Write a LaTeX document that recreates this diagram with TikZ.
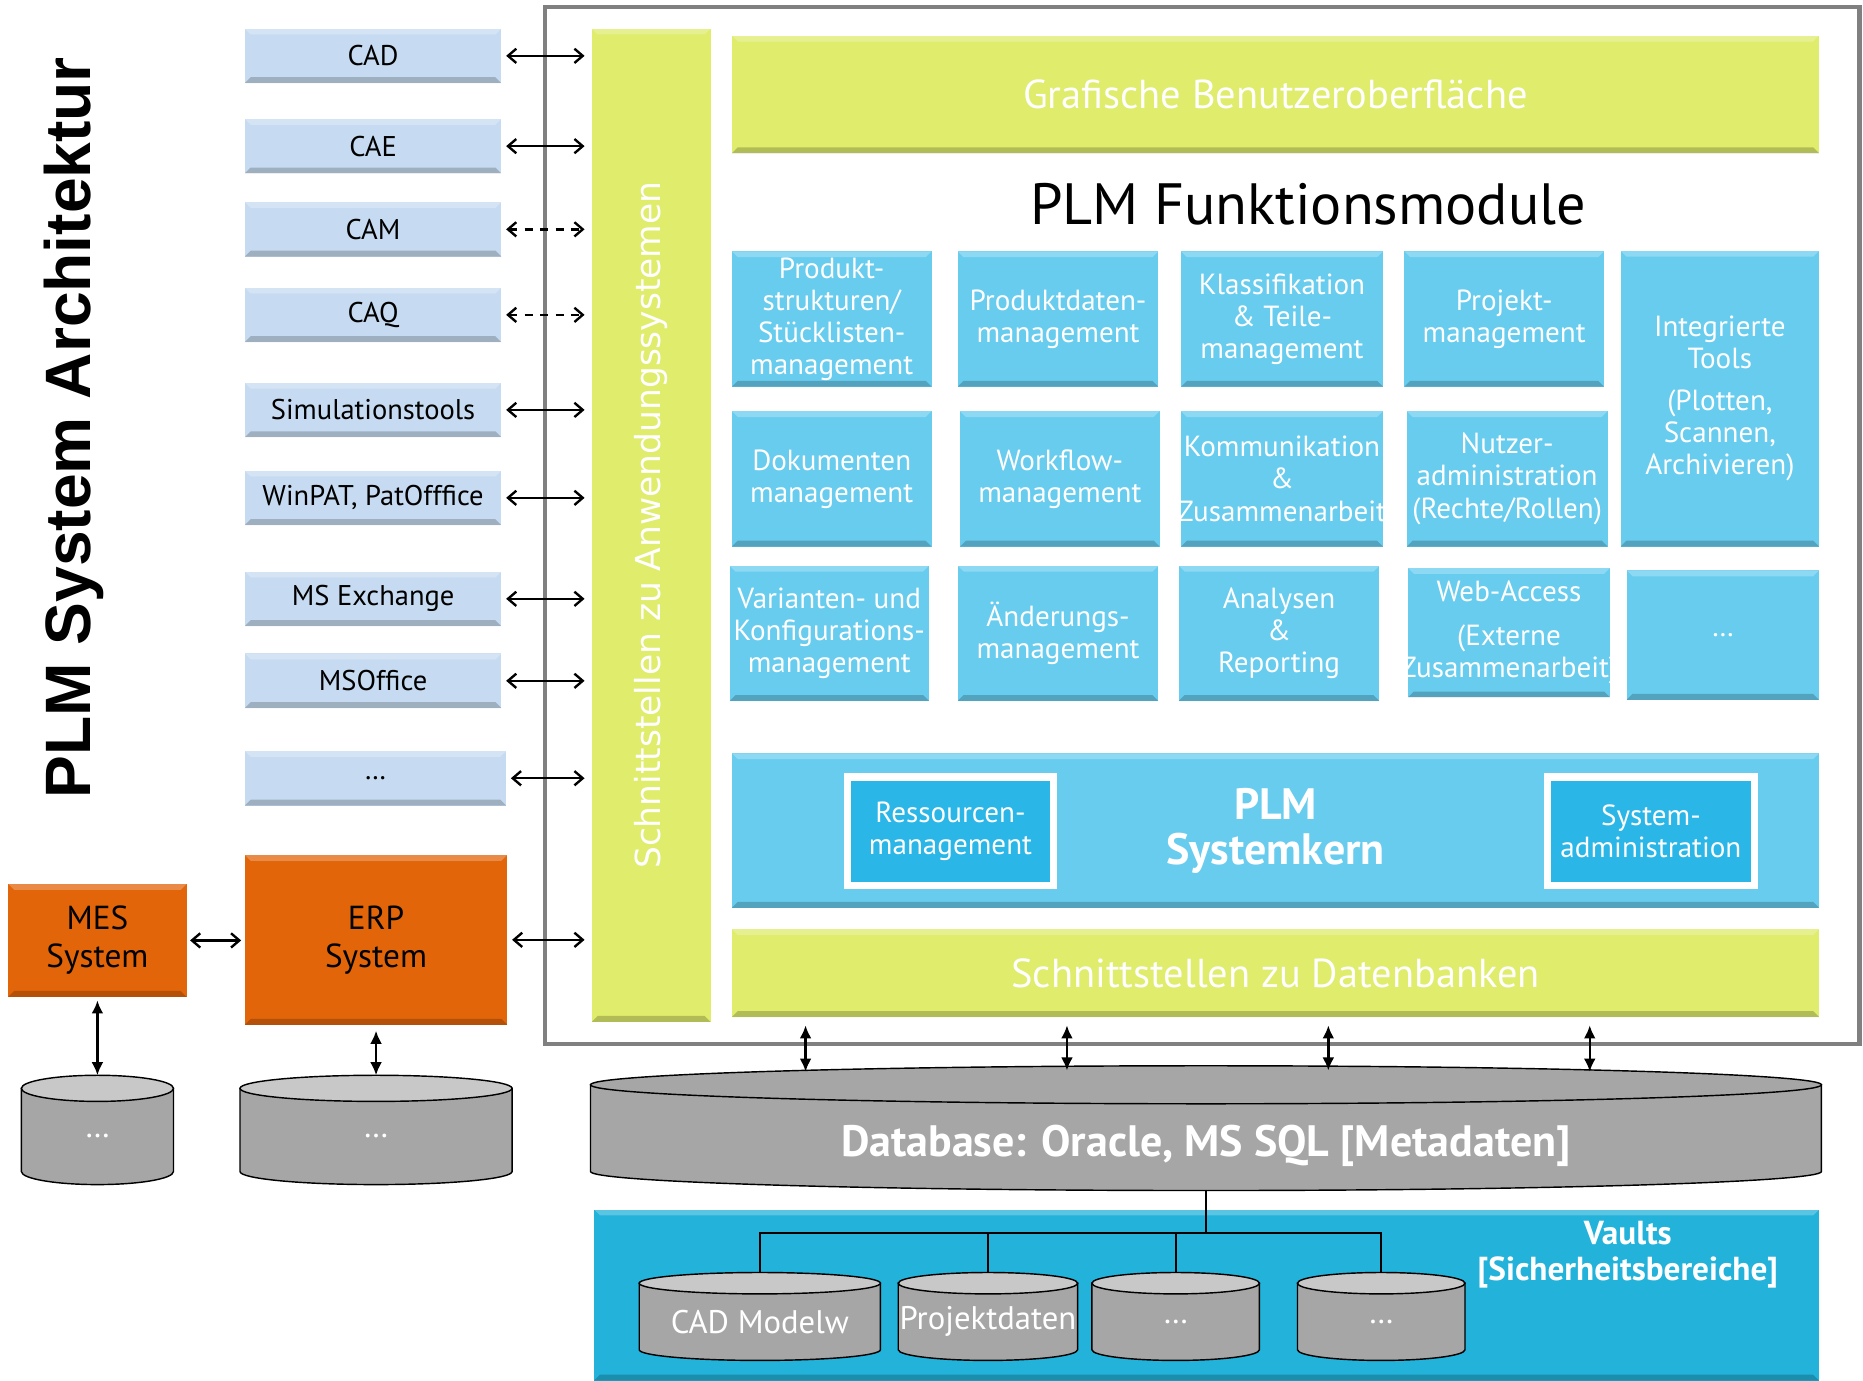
\documentclass[tikz,border=0pt]{standalone}
\usepackage{fontspec}
\setmainfont{PT Sans}
\newfontfamily\titlefont{Liberation Sans}
\newfontfamily\ifacefont{DejaVu Sans}
\usetikzlibrary{arrows.meta}

\definecolor{toolblue}{HTML}{C6DBF1}
\definecolor{lime}{HTML}{DFEC6C}
\definecolor{modblue}{HTML}{68CCEE}
\definecolor{coreblue}{HTML}{2BB6E8}
\definecolor{vaultblue}{HTML}{22B2DA}
\definecolor{erporange}{HTML}{E2650A}
\definecolor{cylgray}{HTML}{A6A6A6}
\definecolor{cyllight}{HTML}{C8C8C8}
\definecolor{framegray}{HTML}{808080}

\tikzset{
  bevel/.style={path picture={
    \fill[black,opacity=.2] (path picture bounding box.south west) -- (path picture bounding box.south east)
      -- ([shift={(-5pt,5pt)}]path picture bounding box.south east) -- ([shift={(5pt,5pt)}]path picture bounding box.south west) -- cycle;
    \fill[white,opacity=.25] (path picture bounding box.north west) -- (path picture bounding box.north east)
      -- ([shift={(-5pt,-5pt)}]path picture bounding box.north east) -- ([shift={(5pt,-5pt)}]path picture bounding box.north west) -- cycle;
  }},
  box/.style={inner sep=0pt, outer sep=0pt, align=center, bevel},
  tool/.style={box, fill=toolblue, minimum width=216pt, minimum height=46pt, font=\fontsize{24}{26}\selectfont},
  legacy/.style={box, fill=erporange, font=\fontsize{28}{32}\selectfont},
  bar/.style={box, fill=lime, text=white, font=\fontsize{34}{36}\selectfont},
  module/.style={box, fill=modblue, text=white, minimum width=168pt, minimum height=114pt, font=\fontsize{24.5}{27}\selectfont},
  core/.style={inner sep=0pt, align=center, fill=coreblue, draw=white, line width=6pt, minimum width=174pt, minimum height=91pt, text=white, font=\fontsize{24.5}{27}\selectfont},
  cylside/.style={fill=cylgray, draw=black, line width=1.2pt},
  cyltop/.style={fill=cyllight, draw=black, line width=1.2pt},
  cyltext/.style={text=white, font=\fontsize{27.5}{30}\selectfont},
  biarrow/.style={{Straight Barb[length=7pt,width=12pt]}-{Straight Barb[length=7pt,width=12pt]}, line width=2pt},
  dbarrow/.style={{Latex[length=11pt,width=10pt]}-{Latex[length=11pt,width=10pt]}, line width=2pt},
  tree/.style={draw, line width=1.8pt}
}

\newcommand{\wide}[1]{\makebox[0pt][c]{#1}}

% cylinder: name, centre x, top y, x radius, height, y radius, text
\newcommand{\dbcyl}[7]{%
  \path[cylside] (#2-#4,#3+#6) -- (#2-#4,#3+#5-#6)
    arc[start angle=180,end angle=360,x radius=#4pt,y radius=#6pt]
    -- (#2+#4,#3+#6) -- cycle;
  \path[cyltop] (#2,#3+#6) ellipse[x radius=#4pt,y radius=#6pt];
  \coordinate (#1-top) at (#2,#3);
  \coordinate (#1-bottom) at (#2,#3+#5);
  \node[cyltext] (#1) at (#2,#3+#5/2+#6/2) {#7};
}

\begin{document}
\begin{tikzpicture}[x=1pt, y=-1pt]
  \useasboundingbox (0,0) rectangle (1568,1162);

  % title
  \node[rotate=90, font=\titlefont\bfseries\fontsize{54}{60}\selectfont] (archtitle) at (62,360) {PLM System Architektur};

  % external systems
  \node[tool] (cad) at (314,47) {CAD};
  \node[tool] (cae) at (314,123) {CAE};
  \node[tool] (cam) at (314,193) {CAM};
  \node[tool] (caq) at (314,265) {CAQ};
  \node[tool] (sim) at (314,345) {Simulationstools};
  \node[tool] (winpat) at (314,419) {WinPAT, PatOfffice};
  \node[tool] (exchange) at (314,504) {MS Exchange};
  \node[tool] (office) at (314,573) {MSOffice};
  \node[tool, minimum width=220pt] (moretools) at (316,655) {…};

  \node[legacy, minimum width=150pt, minimum height=95pt] (mes) at (82,791.5) {MES\\System};
  \node[legacy, minimum width=221pt, minimum height=143pt] (erp) at (316.5,791) {ERP\\System};

  \dbcyl{mesdb}{82}{905}{64}{92}{11}{…}
  \dbcyl{erpdb}{316.5}{905}{114.5}{92}{11}{…}

  % plm frame
  \draw[framegray, line width=3.5pt] (459,6) rectangle (1565,879);

  \node[bar, minimum width=100pt, minimum height=836pt] (api) at (548,442) {};
  \node[rotate=90, text=white, font=\ifacefont\fontsize{29}{32}\selectfont] (apilabel) at (api) {Schnittstellen zu Anwendungssystemen};

  \node[bar, minimum width=915pt, minimum height=99pt] (gui) at (1073.5,79.5) {Grafische Benutzeroberfläche};
  \node[font=\fontsize{49}{52}\selectfont] (modtitle) at (1101,172) {PLM Funktionsmodule};

  % modules
  \node[module] (m11) at (700,268.5) {Produkt-\\strukturen/\\Stücklisten-\\management};
  \node[module, minimum width=169pt] (m12) at (890.5,268.5) {Produktdaten-\\management};
  \node[module, minimum width=170pt] (m13) at (1079,268.5) {Klassifikation\\\& Teile-\\management};
  \node[module] (m14) at (1266,268.5) {Projekt-\\management};
  \node[module, minimum width=167pt, minimum height=249pt] (m15) at (1447.5,335.5) {Integrierte\\Tools\\[8pt](Plotten,\\Scannen,\\Archivieren)};

  \node[module] (m21) at (700,403) {Dokumenten\\management};
  \node[module] (m22) at (892,403) {Workflow-\\management};
  \node[module, minimum width=170pt] (m23) at (1079,403) {\wide{Kommunikation}\\\&\\\wide{Zusammenarbeit}};
  \node[module, minimum width=169pt] (m24) at (1268.5,403) {Nutzer-\\administration\\(Rechte/Rollen)};

  \node[module] (m31) at (698,533) {Varianten- und\\\wide{Konfigurations-}\\management};
  \node[module, minimum width=169pt] (m32) at (890.5,533) {Änderungs-\\management};
  \node[module, minimum width=169pt] (m33) at (1076.5,533) {Analysen\\\&\\Reporting};
  \node[module, minimum width=170pt, minimum height=109pt] (m34) at (1270,532.5) {Web-Access\\[10pt](Externe\\\wide{Zusammenarbeit)}};
  \node[module, minimum width=162pt, minimum height=109pt] (m35) at (1450,534.5) {…};

  % kernel
  \node[module, minimum width=915pt, minimum height=130pt, font=\bfseries\fontsize{37}{38}\selectfont] (kern) at (1073.5,699) {PLM\\Systemkern};
  \node[core] (res) at (800,699.5) {Ressourcen-\\management};
  \node[core] (sysadm) at (1389.5,699.5) {System-\\administration};

  \node[bar, minimum width=915pt, minimum height=74pt] (dbif) at (1073.5,819) {Schnittstellen zu Datenbanken};

  % vaults
  \node[box, fill=vaultblue, minimum width=1031pt, minimum height=144pt] (vault) at (1015.5,1090) {};
  \node[text=white, align=center, font=\bfseries\fontsize{28}{30}\selectfont] (vaultlabel) at (1370,1056) {Vaults\\{[}Sicherheitsbereiche{]}};

  \begin{scope}[cyltop/.style={fill=cylgray, draw=black, line width=1.2pt},
                cyltext/.style={text=white, yshift=-7pt, font=\bfseries\fontsize{37}{40}\selectfont}]
    \dbcyl{metadb}{1015}{897}{518}{105}{16}{Database: Oracle, MS SQL [Metadaten]}
  \end{scope}

  \dbcyl{vcad}{639.5}{1071}{101.5}{74}{9}{CAD Modelw}
  \dbcyl{vproj}{831.5}{1071}{75.5}{74}{9}{Projektdaten}
  \dbcyl{vmore}{989.5}{1071}{70.5}{74}{9}{…}
  \dbcyl{vmoreb}{1162.5}{1071}{70.5}{74}{9}{…}

  \coordinate (vaultbus) at (1015,1038);
  \draw[tree] (metadb-bottom) -- (vaultbus);
  \draw[tree] (vcad-top) |- (vaultbus);
  \draw[tree] (vproj-top) |- (vaultbus);
  \draw[tree] (vmore-top) |- (vaultbus);
  \draw[tree] (vmoreb-top) |- (vaultbus);

  % interfaces
  \path[biarrow, shorten <=4pt, shorten >=6pt] (cad.east) edge (cad.east -| api.west);
  \path[biarrow, shorten <=4pt, shorten >=6pt] (cae.east) edge (cae.east -| api.west);
  \path[biarrow, dash pattern=on 7pt off 6pt, shorten <=4pt, shorten >=6pt] (cam.east) edge (cam.east -| api.west);
  \path[biarrow, dash pattern=on 7pt off 6pt, shorten <=4pt, shorten >=6pt] (caq.east) edge (caq.east -| api.west);
  \path[biarrow, shorten <=4pt, shorten >=6pt] (sim.east) edge (sim.east -| api.west);
  \path[biarrow, shorten <=4pt, shorten >=6pt] (winpat.east) edge (winpat.east -| api.west);
  \path[biarrow, shorten <=4pt, shorten >=6pt] (exchange.east) edge (exchange.east -| api.west);
  \path[biarrow, shorten <=4pt, shorten >=6pt] (office.east) edge (office.east -| api.west);
  \path[biarrow, shorten <=4pt, shorten >=6pt] (moretools.east) edge (moretools.east -| api.west);
  \path[biarrow, shorten <=4pt, shorten >=6pt] (erp.east) edge (erp.east -| api.west);
  \path[biarrow, shorten <=3pt, shorten >=3pt] (mes.east) edge (mes.east -| erp.west);

  \path[dbarrow, shorten <=3pt] (mes.south) edge (mesdb-top);
  \path[dbarrow, shorten <=5pt] (erp.south) edge (erpdb-top);

  \coordinate (dblink1) at (678,902);
  \coordinate (dblink2) at (898,901);
  \coordinate (dblink3) at (1118,901);
  \coordinate (dblink4) at (1338,902);
  \path[dbarrow, shorten <=7pt] (dbif.south -| dblink1) edge (dblink1);
  \path[dbarrow, shorten <=7pt] (dbif.south -| dblink2) edge (dblink2);
  \path[dbarrow, shorten <=7pt] (dbif.south -| dblink3) edge (dblink3);
  \path[dbarrow, shorten <=7pt] (dbif.south -| dblink4) edge (dblink4);
\end{tikzpicture}
\end{document}
